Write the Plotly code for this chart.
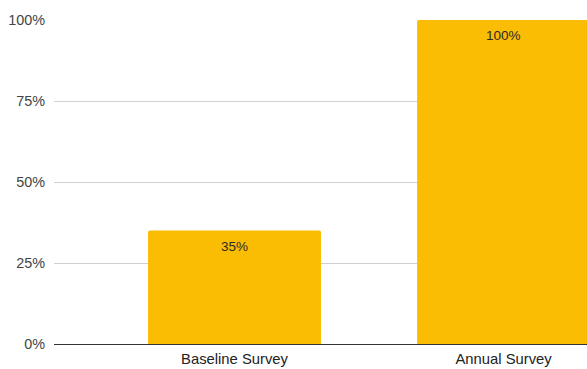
import plotly.graph_objects as go

# Share of responses per survey
surveys = ["Baseline Survey", "Annual Survey"]
shares = [0.35, 1.00]
y_ticks = [0, 0.25, 0.5, 0.75, 1.0]
y_tick_labels = ["0%", "25%", "50%", "75%", "100%"]

bar_color = "#FBBC04"
font_family = "Liberation Sans, Arial, sans-serif"

fig = go.Figure(
    go.Bar(
        x=list(range(len(surveys))),
        y=shares,
        width=0.643,
        marker=dict(color=bar_color, line=dict(width=0), cornerradius=2),
        hoverinfo="skip",
    )
)

# Value labels just below the top of each bar
for i, v in enumerate(shares):
    fig.add_annotation(
        x=i, y=v, text=f"{round(v * 100)}%", showarrow=False,
        yanchor="top", yshift=-6,
        font=dict(family=font_family, size=13.5, color="#2a2a2a"),
    )

fig.update_layout(
    width=587, height=369,
    margin=dict(l=54, r=0, t=20, b=25),
    paper_bgcolor="white", plot_bgcolor="white",
    showlegend=False,
    font=dict(family=font_family, size=14, color="#444444"),
    xaxis=dict(
        range=[-0.671, 1.310],
        tickmode="array", tickvals=list(range(len(surveys))), ticktext=surveys,
        showgrid=False, zeroline=False, showline=False, ticks="",
        ticklabelstandoff=4,
        tickfont=dict(size=14.8, color="#222222"),
        fixedrange=True,
    ),
    yaxis=dict(
        range=[0, 1],
        tickmode="array", tickvals=y_ticks, ticktext=y_tick_labels,
        showgrid=True, gridcolor="#d0d0d0", gridwidth=1,
        zeroline=True, zerolinecolor="#333333", zerolinewidth=1,
        showline=False, ticks="", ticklabelstandoff=8,
        tickfont=dict(size=14.4, color="#444444"),
        fixedrange=True,
    ),
)

fig.write_html("out.html", config={"displayModeBar": False})
